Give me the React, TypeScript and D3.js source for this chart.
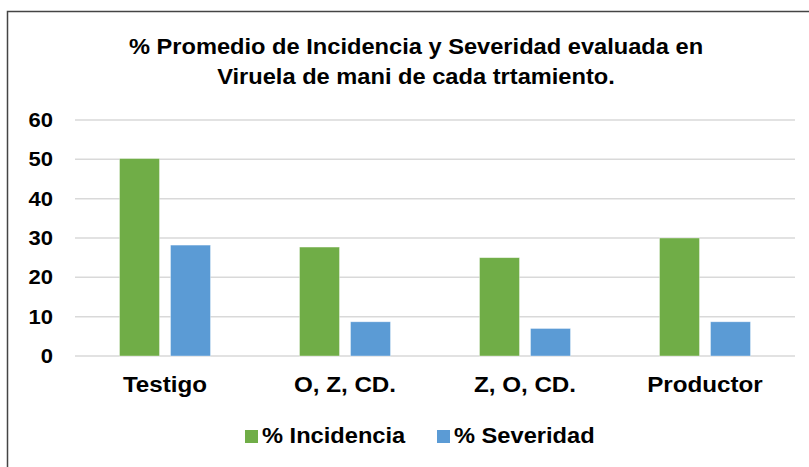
import React, { useRef, useEffect } from "react";
import * as d3 from "d3";

const categories = ["Testigo", "O, Z, CD.", "Z, O, CD.", "Productor"];
const incidencia = [50.2, 27.7, 25.0, 30.0];
const severidad = [28.2, 8.7, 7.0, 8.7];
const yTicks = [0, 10, 20, 30, 40, 50, 60];
const seriesNames = ["% Incidencia", "% Severidad"];
const titleLines = [
  "% Promedio de Incidencia y Severidad evaluada en",
  "Viruela de mani de cada trtamiento.",
];
const colors = ["#70AD47", "#5B9BD5"];

const App: React.FC = () => {
  const ref = useRef<SVGSVGElement | null>(null);

  useEffect(() => {
    const svg = d3.select(ref.current);
    svg.selectAll("*").remove();

    const W = 809;
    const H = 467;
    const left = 75;
    const right = 795;
    const top = 120;
    const bottom = 356;
    const font = "'Liberation Sans', Arial, sans-serif";
    const sx = 1.1; // the original text is a bit wider than Liberation Sans

    // text placed at (x, y), stretched horizontally around its anchor
    const label = (
      g: d3.Selection<any, any, any, any>,
      x: number,
      y: number,
      txt: string,
      size: number,
      anchor = "middle"
    ) =>
      g
        .append("text")
        .attr("transform", `translate(${x},${y}) scale(${sx},1)`)
        .attr("text-anchor", anchor)
        .style("font-family", font)
        .style("font-weight", "bold")
        .style("font-size", `${size}px`)
        .attr("fill", "#000")
        .text(txt);

    // chart frame
    svg
      .append("rect")
      .attr("x", 7.5)
      .attr("y", 11.5)
      .attr("width", W)
      .attr("height", H)
      .attr("fill", "#fff")
      .attr("stroke", "#444")
      .attr("stroke-width", 1.5);

    titleLines.forEach((t, i) => label(svg, 416, 54 + i * 30, t, 21.5));

    const x0 = d3.scaleBand<string>().domain(categories).range([left, right]);
    // two 40px bars with an 11px gap inside each group
    const x1 = d3
      .scaleBand<string>()
      .domain(seriesNames)
      .range([0, 91])
      .paddingInner(11 / 51);

    const y = d3.scaleLinear().domain([0, 60]).range([bottom, top]);

    // gridlines
    svg
      .append("g")
      .selectAll("line")
      .data(yTicks)
      .join("line")
      .attr("x1", left)
      .attr("x2", right)
      .attr("y1", (d) => y(d))
      .attr("y2", (d) => y(d))
      .attr("stroke", "#d9d9d9")
      .attr("stroke-width", 1.5);

    const yAxis = svg.append("g");
    yTicks.forEach((t) => label(yAxis, 53, y(t) + 7, String(t), 20, "end"));

    const series = [incidencia, severidad];
    const groups = svg
      .append("g")
      .selectAll("g")
      .data(categories)
      .join("g")
      .attr("transform", (d) => `translate(${x0(d)! + x0.bandwidth() / 2 - 45.5},0)`);

    groups
      .selectAll("rect")
      .data((_, i) => seriesNames.map((s, k) => ({ s, k, v: series[k][i] })))
      .join("rect")
      .attr("x", (d) => x1(d.s)!)
      .attr("width", x1.bandwidth())
      .attr("y", (d) => y(d.v))
      .attr("height", (d) => y(0) - y(d.v))
      .attr("fill", (d) => colors[d.k])
      .attr("stroke", "#fff")
      .attr("stroke-opacity", 0.5)
      .attr("stroke-width", 0.75);

    const xAxis = svg.append("g");
    categories.forEach((c) =>
      label(xAxis, x0(c)! + x0.bandwidth() / 2, 392, c, 22)
    );

    // legend
    const legendX = [245, 437];
    const lg = svg.append("g");
    seriesNames.forEach((s, i) => {
      lg.append("rect")
        .attr("x", legendX[i])
        .attr("y", 430)
        .attr("width", 13)
        .attr("height", 13)
        .attr("fill", colors[i]);
      label(lg, legendX[i] + 17, 443, s, 21.5, "start");
    });
  }, []);

  return (
    <svg
      ref={ref}
      width={809}
      height={467}
      style={{ position: "absolute", left: 0, top: 0, display: "block" }}
    />
  );
};

export default App;
